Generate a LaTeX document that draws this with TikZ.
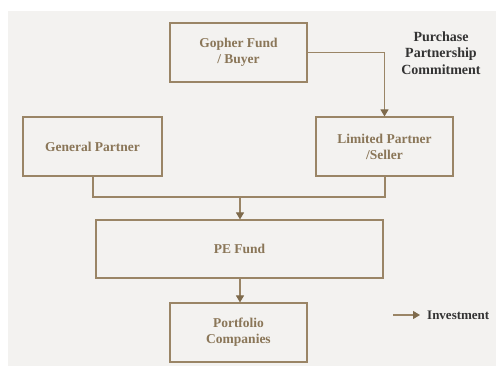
\documentclass[tikz,border=0pt]{standalone}
\usepackage{fontspec}
\setmainfont{Liberation Serif}
\usetikzlibrary{arrows.meta}
\definecolor{bgc}{HTML}{F3F2F0}
\definecolor{brn}{HTML}{8A7658}
\definecolor{lnc}{HTML}{9A8566}
\definecolor{arc}{HTML}{7E6A4C}
\definecolor{dark}{HTML}{333333}
\begin{document}
\begin{tikzpicture}[x=1pt,y=-1pt,
  box/.style={draw=lnc,line width=1.1pt,fill=none,text=brn,font=\bfseries\fontsize{13.5}{16}\selectfont,align=center,inner sep=0pt},
  conn/.style={draw=lnc,line width=1.1pt},
  arr/.style={conn,-{Triangle[width=8pt,length=7pt,color=arc]}}]
\useasboundingbox (0,0) rectangle (496,366);
\fill[white] (0,0) rectangle (496,366);
\fill[bgc] (8,11) rectangle (496,366);
\node[box,minimum width=137pt,minimum height=59pt] (gopher) at (238.5,52.5) {Gopher Fund\\/ Buyer};
\node[box,minimum width=139pt,minimum height=59pt] (gp) at (92.5,146.5) {General Partner};
\node[box,minimum width=137pt,minimum height=59pt] (lp) at (384.5,146.5) {Limited Partner\\/Seller};
\node[box,minimum width=287pt,minimum height=58pt] (pe) at (239.5,249) {PE Fund};
\node[box,minimum width=137pt,minimum height=59pt] (pc) at (238.5,332.5) {Portfolio\\Companies};
\node[text=dark,font=\bfseries\fontsize{14}{16.5}\selectfont,align=center] (pur) at (441,53) {Purchase\\Partnership\\Commitment};
\coordinate (gpdown) at (93,197);
\coordinate (lpdown) at (385,197);
\coordinate (mid) at (240,197);
\draw[arr] (gopher.east) -| (lp.north);
\draw[conn] (gp.south -| gpdown) -- (gpdown) -- (lpdown) -- (lp.south -| lpdown);
\draw[arr] (mid) -- (pe.north -| mid);
\draw[arr] (pe.south -| mid) -- (pc.north -| mid);
\coordinate (la) at (393,315);
\coordinate (lb) at (420,315);
\draw[arr] (la) -- (lb);
\node[text=dark,font=\bfseries\fontsize{13}{16}\selectfont,anchor=west,inner sep=0pt] (inv) at (427,315) {Investment};
\end{tikzpicture}
\end{document}
